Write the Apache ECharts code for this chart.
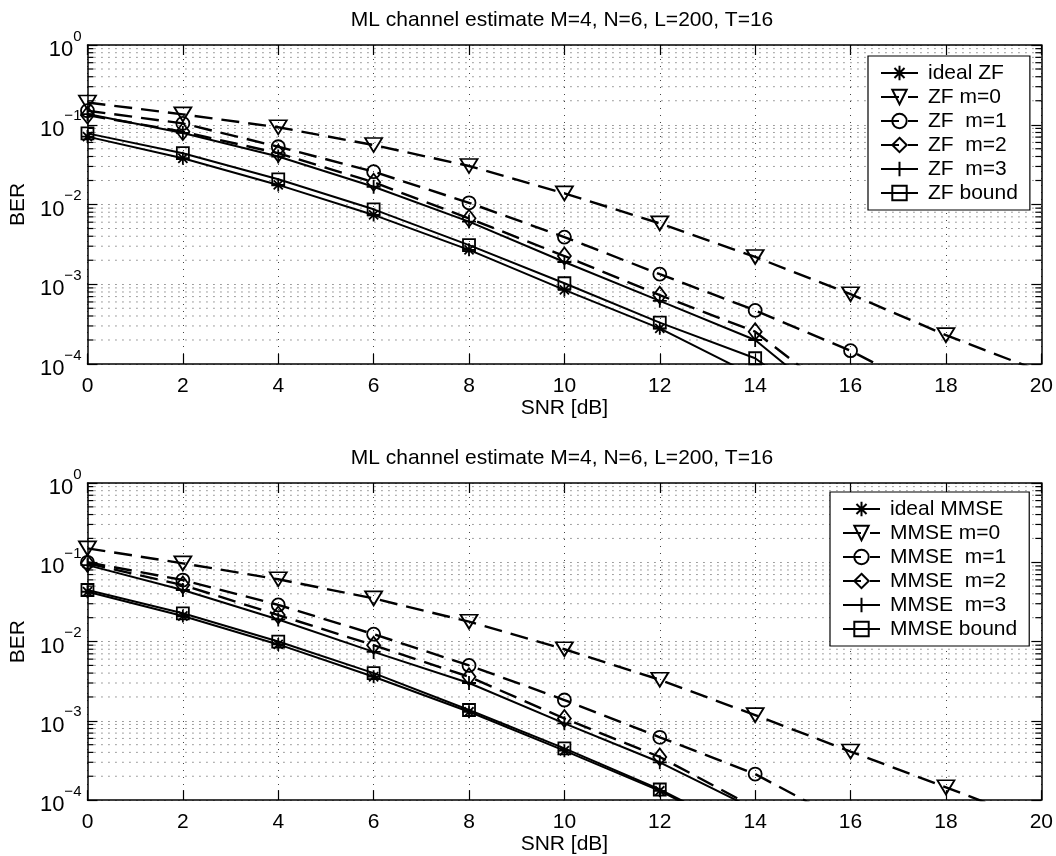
<!DOCTYPE html>
<html><head><meta charset="utf-8">
<script src="https://cdn.jsdelivr.net/npm/echarts@6/dist/echarts.min.js"></script>
<style>html,body{margin:0;padding:0;background:#fff}#c{width:1056px;height:856px}</style>
</head><body><div id="c"></div>
<script>
// ---------- data ----------
const snr = [0, 2, 4, 6, 8, 10, 12, 14, 16, 18, 20];
const titleText = 'ML channel estimate M=4, N=6, L=200, T=16';
const xName = 'SNR [dB]';
const yName = 'BER';

const zfNames = ['ideal ZF', 'ZF m=0', 'ZF  m=1', 'ZF  m=2', 'ZF  m=3', 'ZF bound'];
const zfIdeal = [0.071, 0.038, 0.0176, 0.0074, 0.0027, 0.00085, 0.00028, 0.00007, null, null, null];
const zfM0    = [0.19, 0.135, 0.093, 0.0557, 0.0304, 0.0138, 0.0058, 0.0022, 0.00075, 0.00023, 0.00008];
const zfM1    = [0.15, 0.104, 0.053, 0.0258, 0.0105, 0.0039, 0.00134, 0.00047, 0.000147, 0.000035, null];
const zfM2    = [0.132, 0.082, 0.044, 0.019, 0.0067, 0.00226, 0.00073, 0.000254, 0.00003, null, null];
const zfM3    = [0.136, 0.079, 0.040, 0.0167, 0.0061, 0.0019, 0.00062, 0.0002, 0.000021, null, null];
const zfBound = [0.078, 0.044, 0.0207, 0.0087, 0.0031, 0.00103, 0.00033, 0.000118, 0.000016, null, null];

const mmseNames = ['ideal MMSE', 'MMSE m=0', 'MMSE  m=1', 'MMSE  m=2', 'MMSE  m=3', 'MMSE bound'];
const mmseIdeal = [0.0425, 0.021, 0.0092, 0.0036, 0.0013, 0.00042, 0.000131, 0.000032, null, null, null];
const mmseM0    = [0.15, 0.097, 0.061, 0.035, 0.0178, 0.008, 0.0033, 0.00118, 0.00041, 0.000145, 0.00005];
const mmseM1    = [0.10, 0.0597, 0.029, 0.0124, 0.005, 0.00183, 0.00062, 0.000213, 0.000049, null, null];
const mmseM2    = [0.097, 0.0516, 0.0216, 0.009, 0.0036, 0.00107, 0.00035, 0.00008, null, null, null];
const mmseM3    = [0.092, 0.0447, 0.019, 0.0074, 0.003, 0.00093, 0.0003, 0.000076, null, null, null];
const mmseBound = [0.0447, 0.0227, 0.01, 0.004, 0.00137, 0.00045, 0.000136, 0.000034, null, null, null];

// ---------- styling ----------
const FONT = '"Liberation Sans", Arial, Helvetica, sans-serif';
const SYM = {
  star:   'path://M0,-10L0,10M-10,0L10,0M-7,-7L7,7M-7,7L7,-7',
  tri:    'path://M-10,-7L10,-7L0,9Z',
  circle: 'circle',
  diamond:'diamond',
  plus:   'path://M0,-10L0,10M-10,0L10,0',
  square: 'rect'
};
const SIZE = { star: 13, tri: [17, 14], circle: 13, diamond: [13, 17], plus: 14, square: 12 };
const kinds = ['star', 'tri', 'circle', 'diamond', 'plus', 'square'];
const dashedFlags = [false, true, true, true, false, false];

function pairs(vals) {
  const out = [];
  vals.forEach((v, i) => { if (v !== null) out.push([snr[i], v]); });
  return out;
}

function mkSeries(name, vals, k, dashed, gi) {
  return {
    type: 'line', name, xAxisIndex: gi * 2, yAxisIndex: gi * 2,
    data: pairs(vals), symbol: SYM[k], symbolSize: SIZE[k], showAllSymbol: true,
    clip: true, z: 3, silent: true,
    lineStyle: { color: '#000', width: dashed ? 2.4 : 2, type: dashed ? [18, 9] : 'solid' },
    itemStyle: { color: 'rgba(0,0,0,0)', borderColor: '#000', borderWidth: 1.8 },
    emphasis: { disabled: true }
  };
}

const minorVals = [];
for (let e = -4; e < 0; e++) for (let m = 2; m <= 9; m++) minorVals.push(m * Math.pow(10, e));

function renderMinor(params, api) {
  const v = api.value(1);
  const a = api.coord([0, v]), b = api.coord([20, v]);
  return {
    type: 'group', silent: true, children: [
      { type: 'line', shape: { x1: a[0], y1: a[1], x2: b[0], y2: b[1] }, style: { stroke: '#444', lineWidth: 1, lineDash: [1, 6] } },
      { type: 'line', shape: { x1: a[0], y1: a[1], x2: a[0] + 6, y2: a[1] }, style: { stroke: '#000', lineWidth: 1.2 } },
      { type: 'line', shape: { x1: b[0] - 6, y1: b[1], x2: b[0], y2: b[1] }, style: { stroke: '#000', lineWidth: 1.2 } }
    ]
  };
}

function yLabel(v) {
  const e = Math.round(Math.log10(v));
  return '{b|10}{e|' + (e === 0 ? '0' : '\u2212' + (-e)) + '}';
}

const axisLine = { onZero: false, lineStyle: { color: '#000', width: 1.5 } };
const tick = { inside: true, length: 10, lineStyle: { color: '#000', width: 1.2 } };
const dotted = { show: true, lineStyle: { color: '#444', type: [1, 6], width: 1 } };

const xAxes = [], yAxes = [];
[0, 1].forEach(g => {
  xAxes.push({
    type: 'value', gridIndex: g, min: 0, max: 20, interval: 2, position: 'bottom',
    axisLine, axisTick: tick, splitLine: dotted,
    axisLabel: { color: '#000', fontSize: 21, margin: 12, fontFamily: FONT },
    name: xName, nameLocation: 'middle', nameGap: 24,
    nameTextStyle: { color: '#000', fontSize: 21, fontFamily: FONT }
  });
  xAxes.push({
    type: 'value', gridIndex: g, min: 0, max: 20, interval: 2, position: 'top',
    axisLine, axisTick: tick, splitLine: { show: false }, axisLabel: { show: false }
  });
  yAxes.push({
    type: 'log', logBase: 10, gridIndex: g, min: 0.0001, max: 1, position: 'left',
    axisLine, axisTick: tick, splitLine: dotted,
    axisLabel: {
      formatter: yLabel, margin: 6, color: '#000', fontFamily: FONT,
      rich: {
        b: { fontSize: 22, lineHeight: 32, verticalAlign: 'bottom', color: '#000', fontFamily: FONT },
        e: { fontSize: 15, lineHeight: 10, verticalAlign: 'top', color: '#000', fontFamily: FONT }
      }
    },
    name: yName, nameLocation: 'middle', nameGap: 58, nameRotate: 90,
    nameTextStyle: { color: '#000', fontSize: 21, fontFamily: FONT }
  });
  yAxes.push({
    type: 'log', logBase: 10, gridIndex: g, min: 0.0001, max: 1, position: 'right',
    axisLine, axisTick: tick, splitLine: { show: false }, axisLabel: { show: false }
  });
});

const series = [];
const topVals = [zfIdeal, zfM0, zfM1, zfM2, zfM3, zfBound];
const botVals = [mmseIdeal, mmseM0, mmseM1, mmseM2, mmseM3, mmseBound];
[0, 1].forEach(g => {
  series.push({
    type: 'custom', xAxisIndex: g * 2, yAxisIndex: g * 2, silent: true, z: 1,
    renderItem: renderMinor, data: minorVals.map(v => [0, v])
  });
});
topVals.forEach((v, i) => series.push(mkSeries(zfNames[i], v, kinds[i], dashedFlags[i], 0)));
botVals.forEach((v, i) => series.push(mkSeries(mmseNames[i], v, kinds[i], dashedFlags[i], 1)));

function mkLegend(names, left, top) {
  return {
    data: names, orient: 'vertical', left, top, selectedMode: false,
    backgroundColor: '#fff', borderColor: '#000', borderWidth: 1.2, padding: [6, 12, 6, 12],
    itemWidth: 37, itemHeight: 18, itemGap: 2, z: 10,
    textStyle: { fontSize: 21, color: '#000', fontFamily: FONT, lineHeight: 22, padding: [0, 0, 0, 5] }
  };
}

const option = {
  animation: false,
  backgroundColor: '#fff',
  title: [
    { text: titleText, left: 562, top: 10, textAlign: 'center', padding: 0,
      textStyle: { fontSize: 21, fontWeight: 'normal', color: '#000', fontFamily: FONT } },
    { text: titleText, left: 562, top: 448, textAlign: 'center', padding: 0,
      textStyle: { fontSize: 21, fontWeight: 'normal', color: '#000', fontFamily: FONT } }
  ],
  grid: [
    { left: 83, top: 45, width: 959, height: 319 },
    { left: 83, top: 483, width: 959, height: 318 }
  ],
  legend: [mkLegend(zfNames, 868, 56), mkLegend(mmseNames, 830, 492)],
  xAxis: xAxes,
  yAxis: yAxes,
  series
};

const chart = echarts.init(document.getElementById('c'), null, { renderer: 'canvas' });
chart.setOption(option);
</script>
</body></html>
